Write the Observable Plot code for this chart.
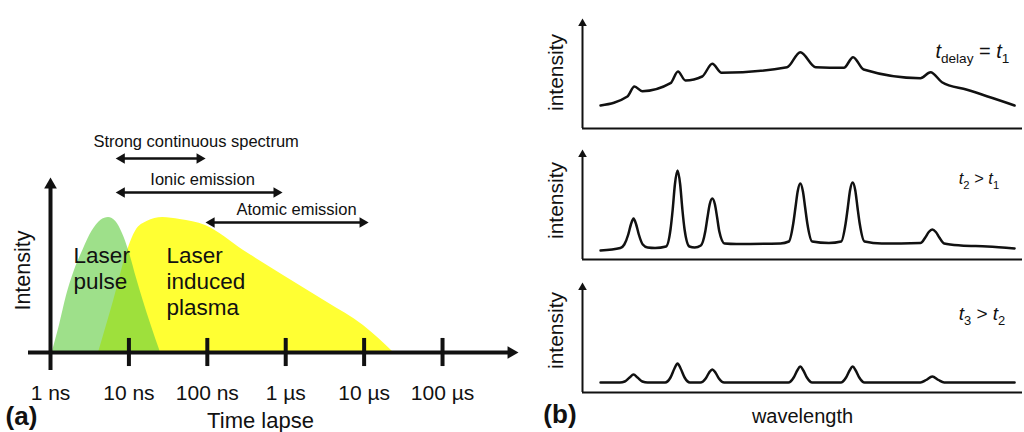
<!DOCTYPE html>
<html><head><meta charset="utf-8">
<script src="https://cdn.jsdelivr.net/npm/d3@7"></script>
<script src="https://cdn.jsdelivr.net/npm/@observablehq/plot@0.6"></script>
<style>
html,body{margin:0;padding:0;background:#fff;}
#wrap{position:relative;width:1024px;height:432px;overflow:hidden;}
</style></head><body><div id="wrap"></div>
<script>
// ---------- Panel (a) data ----------
const timeTicks = [1, 10, 100, 1000, 10000, 100000];           // ns
const timeTickLabels = ["1 ns", "10 ns", "100 ns", "1 µs", "10 µs", "100 µs"];
const timeRange = [0.524, 931000];                              // ns, extent of the time axis
const pulse = [[1.05,0],[1.3,0.2],[1.6,0.42],[2.0,0.6],[2.6,0.76],[3.4,0.9],[4.4,0.98],[5.5,1],[6.8,0.97],[8.3,0.88],[10,0.75],[12.5,0.55],[15.3,0.38],[19,0.21],[25.3,0]];
const plasma = [[4.1,0],[6.4,0.385],[9.6,0.756],[12.2,0.9],[17,0.97],[27,1.0],[45,0.985],[95,0.94],[290,0.756],[935,0.57],[3400,0.37],[9800,0.2],[23700,0]];
const regionNames = ["Laser\npulse", "Laser\ninduced\nplasma"];
const regionTime = [1.97, 30.2];
const regionLevel = [0.626, 0.53];
const windowNames = ["Strong continuous spectrum", "Ionic emission", "Atomic emission"];
const windowStart = [6.8, 6.8, 95];
const windowEnd = [95, 910, 11400];
const windowLevel = [1.437, 1.185, 0.963];
const windowLabelTime = [72, 87, 1374];
const windowLabelLevel = [1.558, 1.283, 1.054];

// ---------- Panel (b) data (wavelength a.u., intensity a.u.) ----------
const spectrumLabels = ["t_{delay} = t_{1}", "t_{2} > t_{1}", "t_{3} > t_{2}"];
const spectrum1 = [[4.1,23],[10.2,32],[11.8,42],[13.6,37.3],[20,45.3],[21.7,57],[23.4,48],[27.2,52],[29.5,64.7],[31.6,55.7],[46.5,61.3],[49.5,76.3],[53,61.3],[59.4,60.7],[61.5,71.3],[63.9,59],[76.8,50.3],[79.1,56.3],[81.7,46.3],[87.4,38.7],[98.2,23]];
const spectrum2 = [[4.1,9],[8.6,11.5],[9.5,15],[10.4,25],[11,35],[11.6,41],[12.2,35],[12.8,25],[13.7,15],[14.8,12],[16.5,11.5],
  [19,13],[20,30],[20.5,50],[21,75],[21.6,89],[22.2,75],[22.7,50],[23.2,30],[24.3,13],[25.5,12],
  [26.9,14],[27.9,28],[28.4,42],[28.9,55],[29.5,61],[30.1,55],[30.6,42],[31.1,28],[32.3,16],[35,15.5],
  [45,16],[46.9,18],[47.9,36],[48.4,52],[48.9,68],[49.5,76],[50.1,68],[50.6,52],[51.1,36],[52.2,18],[56,16.5],
  [58.8,18],[59.8,36],[60.3,52],[60.8,69],[61.4,77],[62,69],[62.5,52],[63,36],[64.1,18],
  [68,16],[76.8,16.5],[77.9,22],[78.7,27.5],[79.5,30],[80.3,27.5],[81.1,22],[82.2,16],[86,14],[92,13],[98.2,11]];
const spectrum3 = [[4.1,10],[8.5,10],[9.6,11],[10.7,15],[11.6,18],[12.5,15],[13.6,11],[14.8,10],
  [18.8,10],[20,15],[20.9,24],[21.6,29],[22.3,24],[23.2,15],[24.4,10],
  [26.8,10],[28,14],[28.8,20],[29.5,23],[30.2,20],[31,14],[32.2,10],
  [46.8,10],[48,15],[48.8,22],[49.5,26],[50.2,22],[51,15],[52.2,10],
  [58.7,10],[59.9,15],[60.7,22],[61.4,26],[62.1,22],[62.9,15],[64.1,10],
  [76.8,10],[78.1,12.5],[79.5,16],[80.9,12.5],[82.2,10],[98.2,10]];

const ink = "#111";
const font = '"Liberation Sans", Arial, sans-serif';
const place = (left, top) => ({position: "absolute", left: left + "px", top: top + "px",
  background: "transparent", overflow: "visible", fontFamily: font, maxWidth: "none"});

const wrap = document.getElementById("wrap");

// ---------- Panel (a) ----------
const ticks = timeTicks.map((t, i) => ({t, label: timeTickLabels[i]}));
const regions = regionNames.map((name, i) => ({name, t: regionTime[i], v: regionLevel[i]}));
const windows = windowNames.map((name, i) => ({name, start: windowStart[i], end: windowEnd[i],
  level: windowLevel[i], lt: windowLabelTime[i], lv: windowLabelLevel[i]}));

const A = Plot.plot({
  width: 525, height: 432, marginLeft: 28, marginRight: 7, marginTop: 217, marginBottom: 80,
  x: {type: "log", domain: timeRange, axis: null},
  y: {domain: [0, 1], axis: null},
  style: place(0, 0),
  marks: [
    Plot.areaY(plasma, {x: d => d[0], y: d => d[1], fill: "#ffff33", curve: "monotone-x"}),
    Plot.areaY(pulse, {x: d => d[0], y: d => d[1], fill: "rgb(98,205,66)", fillOpacity: 0.62, curve: "monotone-x"}),
    Plot.text(regions, {x: "t", y: "v", text: "name", textAnchor: "start", fontSize: 22.5, lineHeight: 1.16, fill: ink}),
    // axes
    Plot.ruleY([0], {x1: timeRange[0], x2: 7.6e5, stroke: ink, strokeWidth: 4}),
    Plot.dot([0], {x: timeRange[1], y: 0, symbol: "triangle", r: 4.7, rotate: 90, dx: -7.3, fill: ink, stroke: "none"}),
    Plot.ruleX([timeTicks[0]], {y1: -0.133, y2: 1.22, stroke: ink, strokeWidth: 4}),
    Plot.dot([0], {x: timeTicks[0], y: 1.296, symbol: "triangle", r: 4.7, dy: 7.3, fill: ink, stroke: "none"}),
    Plot.ruleX(timeTicks.slice(1), {y1: -0.104, y2: 0.104, stroke: ink, strokeWidth: 4}),
    Plot.text(ticks, {x: "t", y: -0.3, text: "label", fontSize: 21, fill: ink}),
    Plot.text(["Time lapse"], {x: 477, y: -0.504, text: d => d, fontSize: 22, fill: ink}),
    Plot.text(["Intensity"], {x: 0.453, y: 0.607, text: d => d, rotate: -90, fontSize: 21.5, fill: ink}),
    Plot.text(["(a)"], {x: 0.267, y: -0.474, text: d => d, textAnchor: "start", fontWeight: "bold", fontSize: 26, fill: ink}),
    // time windows
    Plot.arrow(windows, {x1: "start", x2: "end", y1: "level", y2: "level", headLength: 0, insetStart: 4, insetEnd: 4, stroke: ink, strokeWidth: 2.5}),
    Plot.dot(windows, {x: "start", y: "level", symbol: "triangle", r: 3.9, rotate: -90, dx: 6, fill: ink, stroke: "none"}),
    Plot.dot(windows, {x: "end", y: "level", symbol: "triangle", r: 3.9, rotate: 90, dx: -6, fill: ink, stroke: "none"}),
    Plot.text(windows, {x: "lt", y: "lv", text: "name", fontSize: 16.5, fill: ink})
  ]
});
wrap.appendChild(A);

// ---------- Panel (b) ----------
function richify(svg, fs) {
  d3.select(svg).selectAll("text").each(function() {
    const s = this.textContent;
    if (!s.includes("_{")) return;
    const el = d3.select(this); el.text(null);
    const shift = 0.3 * fs; let off = 0;
    for (const m of s.matchAll(/_\{([^}]*)\}|t|[^t_]+/g)) {
      const ts = el.append("tspan");
      if (m[1] !== undefined) {
        ts.text(m[1]).attr("font-size", (fs * 0.68) + "px").style("font-size", (fs * 0.68) + "px").attr("dy", shift - off);
        off = shift;
      } else {
        ts.text(m[0]).attr("dy", -off); off = 0;
        if (m[0] === "t") ts.attr("font-style", "italic");
      }
    }
  });
}

const panels = [
  {data: spectrum1, top: 0, height: 140, labelX: 80.2, labelY: 77.4, labelSize: 20, yLab: 56},
  {data: spectrum2, top: 131, height: 140, labelX: 85.5, labelY: 81, labelSize: 16.5, yLab: 59},
  {data: spectrum3, top: 264, height: 168, labelX: 85.5, labelY: 79, labelSize: 19, yLab: 62, last: true}
];

panels.forEach((p, i) => {
  const marks = [
    Plot.ruleY([0], {x1: 0, x2: 100, stroke: ink, strokeWidth: 2}),
    Plot.ruleX([0], {y1: 0, y2: 106, stroke: ink, strokeWidth: 2}),
    Plot.dot([0], {x: 0, y: 110, symbol: "triangle", r: 3.2, dy: 5, fill: ink, stroke: "none"}),
    Plot.line(p.data, {x: d => d[0], y: d => d[1], curve: "monotone-x", stroke: ink, strokeWidth: 2.5, strokeLinejoin: "round"}),
    Plot.text(["intensity"], {x: -5.9, y: p.yLab, text: d => d, rotate: -90, fontSize: 21, fill: ink}),
    Plot.text([spectrumLabels[i]], {x: p.labelX, y: p.labelY, text: d => d, textAnchor: "start", fontSize: p.labelSize, fill: ink})
  ];
  if (p.last) {
    marks.push(Plot.text(["(b)"], {x: -8.9, y: -21.7, text: d => d, textAnchor: "start", fontWeight: "bold", fontSize: 26, fill: ink}));
    marks.push(Plot.text(["wavelength"], {x: 50, y: -23.6, text: d => d, fontSize: 20, fill: ink}));
  }
  const svg = Plot.plot({
    width: 494, height: p.height, marginLeft: 52, marginRight: 2, marginTop: 28, marginBottom: p.height - 128,
    x: {domain: [0, 100], axis: null},
    y: {domain: [0, 100], axis: null},
    style: place(530, p.top),
    marks
  });
  richify(svg, p.labelSize);
  wrap.appendChild(svg);
});
</script></body></html>
